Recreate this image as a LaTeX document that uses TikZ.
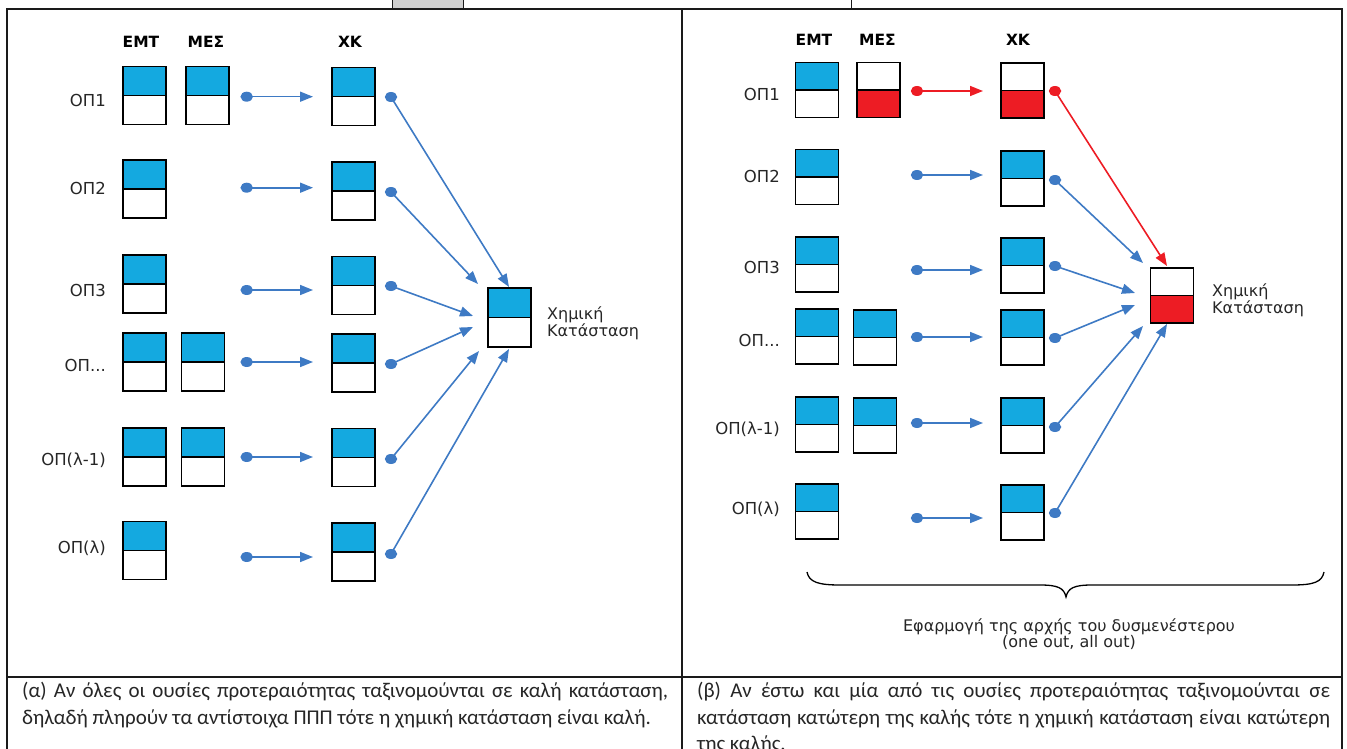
\documentclass[tikz,border=0pt]{standalone}
\usepackage{fontspec}
\setmainfont{Carlito}
\newfontfamily\djf{DejaVu Sans}
\usetikzlibrary{arrows.meta,shapes.geometric}
\definecolor{cblue}{RGB}{20,169,224}
\definecolor{cred}{RGB}{237,28,36}
\definecolor{lblue}{RGB}{62,122,196}
\definecolor{frm}{RGB}{26,26,26}
\tikzset{
  cell/.style={draw=black, line width=1.6pt, minimum width=43pt, inner sep=0pt, outer sep=0pt},
  good/.style={cell, minimum height=#1, path picture={
      \fill[cblue] (path picture bounding box.north west) rectangle (path picture bounding box.east);
      \draw[line width=1.6pt] (path picture bounding box.west) -- (path picture bounding box.east);}},
  good/.default=58pt,
  bad/.style={cell, minimum height=#1, path picture={
      \fill[cred] (path picture bounding box.west) rectangle (path picture bounding box.south east);
      \draw[line width=1.6pt] (path picture bounding box.west) -- (path picture bounding box.east);}},
  bad/.default=55pt,
  lab/.style={font=\djf\fontsize{16.5}{19}\selectfont, text=black!85, anchor=east, inner sep=0pt},
  hdr/.style={font=\djf\bfseries\fontsize{15.5}{18}\selectfont, inner sep=0pt},
  dotb/.style={ellipse, fill=lblue, minimum width=12.5pt, minimum height=10pt, inner sep=0pt},
  dotr/.style={dotb, fill=cred},
  conn/.style={lblue, line width=1.6pt, -{Triangle[length=13pt,width=10pt]}},
  rconn/.style={conn, draw=cred, fill=cred},
  tframe/.style={frm, line width=2pt},
  captxt/.style={anchor=base west, inner sep=0pt, font=\fontsize{21}{25}\selectfont, text=black!85},
  chem/.style={font=\djf\fontsize{16}{17}\selectfont, text=black!85, align=left, anchor=west, inner sep=0pt},
}
\begin{document}
\begin{tikzpicture}[x=1pt,y=-1pt]
\useasboundingbox (0,0) rectangle (1347,749);
% top tab
\draw[frm, line width=0.8pt, fill=black!19] (392,-3) rectangle (463,8);
\draw[frm, line width=0.8pt] (463,-3) rectangle (851,8);
% table frame
\draw[tframe] (7,760) -- (7,9) -- (1342,9) -- (1342,760);
\draw[tframe] (682,9) -- (682,760);
\draw[tframe] (7,677) -- (1342,677);

% ================= LEFT PANEL =================
\node[hdr] (lhE) at (141,42) {ΕΜΤ};
\node[hdr] (lhM) at (206,42) {ΜΕΣ};
\node[hdr] (lhX) at (350,42) {ΧΚ};

\node[lab] (ll1) at (106,100) {ΟΠ1};
\node[lab] (ll2) at (106,188) {ΟΠ2};
\node[lab] (ll3) at (106,290) {ΟΠ3};
\node[lab] (ll4) at (106,365) {ΟΠ...};
\node[lab] (ll5) at (106,460) {ΟΠ(λ-1)};
\node[lab] (ll6) at (106,548) {ΟΠ(λ)};

\node[good] (le1) at (144.5,95.5) {};
\node[good] (lm1) at (207.5,95.5) {};
\node[good] (lx1) at (353.5,96.5) {};
\node[good] (le2) at (144.5,189) {};
\node[good] (lx2) at (353.5,191) {};
\node[good] (le3) at (144.5,284) {};
\node[good] (lx3) at (353.5,285.5) {};
\node[good] (le4) at (144.5,362) {};
\node[good] (lm4) at (203,362) {};
\node[good] (lx4) at (353.5,363) {};
\node[good] (le5) at (144.5,457) {};
\node[good] (lm5) at (203,457) {};
\node[good] (lx5) at (353.5,457.5) {};
\node[good] (le6) at (144.5,550.5) {};
\node[good] (lx6) at (353.5,552) {};

\node[good=59pt] (lck) at (509.5,317.5) {};
\node[chem] (lckt) at (547,323) {Χημική\\Κατάσταση};

% input arrows
\node[dotb] (lia1) at (246.7,96.7) {};  \coordinate (lib1) at (313,96.7);
\node[dotb] (lia2) at (246.7,187.7) {}; \coordinate (lib2) at (313,187.7);
\node[dotb] (lia3) at (246.7,290) {};   \coordinate (lib3) at (313,290);
\node[dotb] (lia4) at (246.7,362) {};   \coordinate (lib4) at (313,362);
\node[dotb] (lia5) at (246.7,457) {};   \coordinate (lib5) at (313,457);
\node[dotb] (lia6) at (246.7,557) {};   \coordinate (lib6) at (313,557);
\foreach \i in {1,...,6}{\draw[conn] (lia\i.center) -- (lib\i);}

% output arrows
\node[dotb] (loa1) at (391,97) {};  \coordinate (lob1) at (509,287);
\node[dotb] (loa2) at (391,192) {}; \coordinate (lob2) at (478,284);
\node[dotb] (loa3) at (391,286) {}; \coordinate (lob3) at (473,316);
\node[dotb] (loa4) at (391,364) {}; \coordinate (lob4) at (473,327);
\node[dotb] (loa5) at (391,459) {}; \coordinate (lob5) at (479,351);
\node[dotb] (loa6) at (391,554) {}; \coordinate (lob6) at (509,349);
\foreach \i in {1,...,6}{\draw[conn] (loa\i.center) -- (lob\i);}

% ================= RIGHT PANEL =================
\node[hdr] (rhE) at (814,40) {ΕΜΤ};
\node[hdr] (rhM) at (877.5,40) {ΜΕΣ};
\node[hdr] (rhX) at (1018,40) {ΧΚ};

\node[lab] (rl1) at (780,94) {ΟΠ1};
\node[lab] (rl2) at (780,176) {ΟΠ2};
\node[lab] (rl3) at (780,267) {ΟΠ3};
\node[lab] (rl4) at (780,340) {ΟΠ...};
\node[lab] (rl5) at (780,429) {ΟΠ(λ-1)};
\node[lab] (rl6) at (780,509) {ΟΠ(λ)};

\node[good=55pt] (re1) at (817,90) {};
\node[bad] (rm1) at (878.5,90) {};
\node[bad] (rx1) at (1022.5,90.5) {};
\node[good=55pt] (re2) at (817,177) {};
\node[good=55pt] (rx2) at (1022.5,178.5) {};
\node[good=55pt] (re3) at (817,264.5) {};
\node[good=55pt] (rx3) at (1022.5,265.5) {};
\node[good=55pt] (re4) at (817,336.5) {};
\node[good=55pt] (rm4) at (875,337.5) {};
\node[good=55pt] (rx4) at (1022.5,337.5) {};
\node[good=55pt] (re5) at (817,424.5) {};
\node[good=55pt] (rm5) at (875,425.5) {};
\node[good=55pt] (rx5) at (1022.5,425.5) {};
\node[good=55pt] (re6) at (817,511.5) {};
\node[good=55pt] (rx6) at (1022.5,512.5) {};

\node[bad] (rck) at (1172,295.5) {};
\node[chem] (rckt) at (1212,300) {Χημική\\Κατάσταση};

% input arrows
\node[dotr] (ria1) at (917,91) {};  \coordinate (rib1) at (983,91);
\node[dotb] (ria2) at (917,175) {}; \coordinate (rib2) at (983,175);
\node[dotb] (ria3) at (917,270) {}; \coordinate (rib3) at (983,270);
\node[dotb] (ria4) at (917,337) {}; \coordinate (rib4) at (983,337);
\node[dotb] (ria5) at (917,423) {}; \coordinate (rib5) at (983,423);
\node[dotb] (ria6) at (917,518) {}; \coordinate (rib6) at (983,518);
\draw[rconn] (ria1.center) -- (rib1);
\foreach \i in {2,...,6}{\draw[conn] (ria\i.center) -- (rib\i);}

% output arrows
\node[dotr] (roa1) at (1055,91) {};  \coordinate (rob1) at (1167,266);
\node[dotb] (roa2) at (1055,180) {}; \coordinate (rob2) at (1143,263);
\node[dotb] (roa3) at (1055,266) {}; \coordinate (rob3) at (1135,293);
\node[dotb] (roa4) at (1055,338) {}; \coordinate (rob4) at (1135,305);
\node[dotb] (roa5) at (1055,427) {}; \coordinate (rob5) at (1143,326);
\node[dotb] (roa6) at (1055,513) {}; \coordinate (rob6) at (1167,324);
\draw[rconn] (roa1.center) -- (rob1);
\foreach \i in {2,...,6}{\draw[conn] (roa\i.center) -- (rob\i);}

% brace
\draw[black, line width=1.3pt]
  (807,572) .. controls (809,582) and (818,585) .. (840,585)
  -- (1040,585) .. controls (1058,585) and (1064,588) .. (1066,597)
  .. controls (1068,588) and (1074,585) .. (1092,585)
  -- (1292,585) .. controls (1314,585) and (1322,582) .. (1324,572);
\node[font=\djf\fontsize{16}{16.5}\selectfont, text=black!85, align=center, inner sep=0pt] (rule) at (1069,634)
  {Εφαρμογή της αρχής του δυσμενέστερου\\(one out, all out)};

% captions
\node[captxt] (ca1) at (22,697) {\makebox[646pt][s]{(α) Αν όλες οι ουσίες προτεραιότητας ταξινομούνται σε καλή κατάσταση,}};
\node[captxt] (ca2) at (22,724) {δηλαδή πληρούν τα αντίστοιχα ΠΠΠ τότε η χημική κατάσταση είναι καλή.};
\node[captxt] (cb1) at (697,697) {\makebox[633pt][s]{(β) Αν έστω και μία από τις ουσίες προτεραιότητας ταξινομούνται σε}};
\node[captxt] (cb2) at (697,724) {\makebox[633pt][s]{κατάσταση κατώτερη της καλής τότε η χημική κατάσταση είναι κατώτερη}};
\node[captxt] (cb3) at (697,750) {της καλής.};
\end{tikzpicture}
\end{document}
